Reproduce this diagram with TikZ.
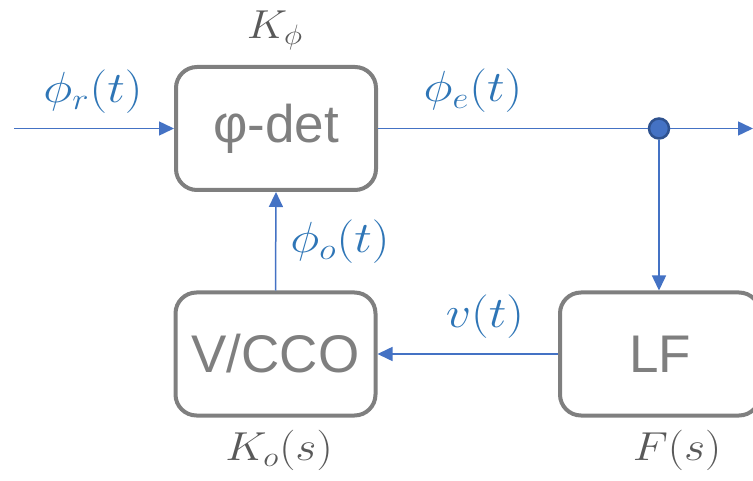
\documentclass[tikz,border=0pt]{standalone}
\usepackage{fontspec}
\setmainfont{Liberation Sans}
\usetikzlibrary{arrows.meta}
\definecolor{lineblue}{HTML}{4472C4}
\definecolor{labelblue}{HTML}{2E75B6}
\definecolor{dotedge}{HTML}{2F528F}
\definecolor{boxgray}{HTML}{7F7F7F}
\definecolor{labgray}{HTML}{595959}
\newcommand{\bigmath}[3]{\scalebox{#1}[#2]{\fontsize{20.74}{24}\selectfont$#3$}}
\tikzset{
  block/.style={draw=boxgray, line width=4pt, rounded corners=21pt, minimum width=200pt, minimum height=123pt, inner sep=0pt, text=boxgray, font=\fontsize{53}{60}\selectfont},
  sig/.style={draw=lineblue, line width=1.5pt, -{Triangle[length=15pt,width=14pt]}},
  bluelab/.style={text=labelblue, inner sep=0pt},
  graylab/.style={text=labgray, inner sep=0pt},
  junction/.style={circle, fill=lineblue, draw=dotedge, line width=2.5pt, minimum size=20pt, inner sep=0pt}
}
\begin{document}
\begin{tikzpicture}[x=1pt, y=-1pt]
\useasboundingbox (0,0) rectangle (753,481);
\node[block] (det) at (276,128.5) {φ-det};
\node[block] (vco) at (275.5,354) {V/CCO};
\node[block] (lf) at (660,354) {LF};
\coordinate (in) at (14,128.5);
\coordinate (out) at (753,128.5);
\node[junction] (j) at (659,128.5) {};
\draw[sig] (in) -- (det.west);
\draw[draw=lineblue, line width=1.5pt] (det.east) -- (j);
\draw[sig] (j) -- (out);
\draw[sig] (j) -- (j |- lf.north);
\draw[sig] (lf.west) -- (vco.east);
\draw[sig] (vco.north) -- (det.south);
\node[graylab] (kphi) at (275,30) {\bigmath{2.15}{1.95}{K_\phi}};
\node[bluelab] (phr) at (93,92) {\bigmath{2.4}{2.1}{\phi_r(t)}};
\node[bluelab] (phe) at (473,91) {\bigmath{2.4}{2.1}{\phi_e(t)}};
\node[bluelab] (pho) at (340,242) {\bigmath{2.4}{2.1}{\phi_o(t)}};
\node[bluelab] (vt) at (485,317) {\bigmath{2.4}{2.1}{v(t)}};
\node[graylab] (ko) at (279,450) {\bigmath{2.2}{1.95}{K_o(s)}};
\node[graylab] (fs) at (677,450) {\bigmath{2.2}{1.95}{F(s)}};
\end{tikzpicture}
\end{document}
